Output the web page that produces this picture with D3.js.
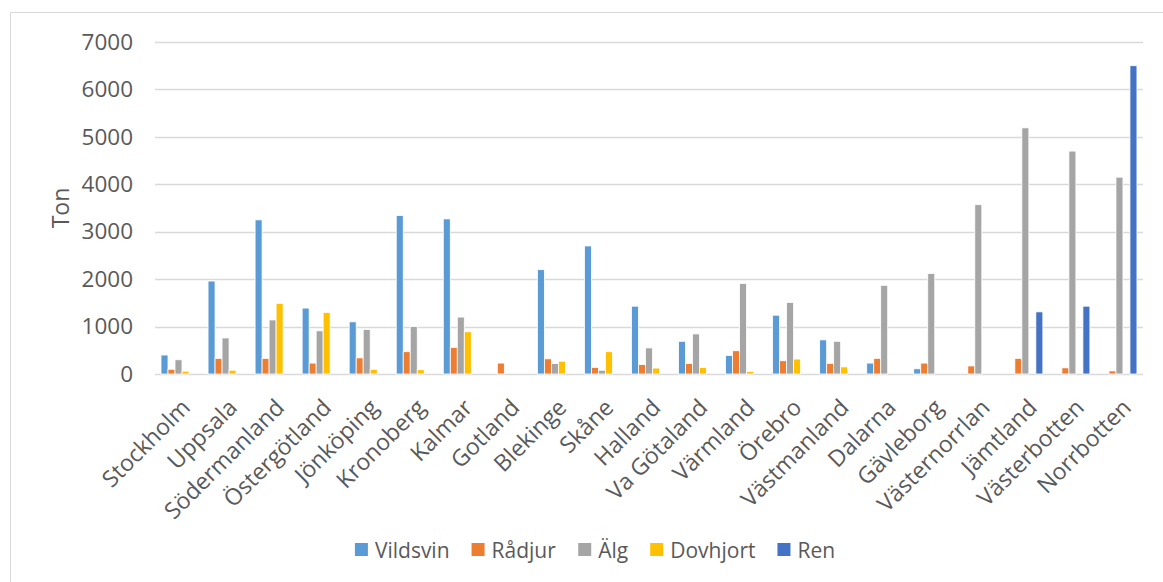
<!DOCTYPE html>
<html>
<head>
<meta charset="utf-8">
<script src="https://cdn.jsdelivr.net/npm/d3@7"></script>
<style>
  html, body { margin: 0; padding: 0; background: #fff; }
  svg { display: block; font-family: "Open Sans", sans-serif; }
</style>
</head>
<body>
<svg id="chart" width="1163" height="582"></svg>
<script>
// Län (counties)
const categories = ["Stockholm", "Uppsala", "Södermanland", "Östergötland", "Jönköping",
  "Kronoberg", "Kalmar", "Gotland", "Blekinge", "Skåne", "Halland", "Va Götaland",
  "Värmland", "Örebro", "Västmanland", "Dalarna", "Gävleborg", "Västernorrlan",
  "Jämtland", "Västerbotten", "Norrbotten"];

// Ton per species and county
const vildsvin = [400, 1960, 3250, 1390, 1100, 3340, 3270, 0, 2200, 2700, 1430, 690, 390, 1240, 720, 230, 110, 0, 0, 0, 0];
const radjur   = [100, 330, 330, 230, 340, 470, 560, 230, 320, 140, 200, 220, 490, 280, 225, 330, 230, 170, 330, 130, 65];
const alg      = [300, 760, 1140, 910, 940, 1000, 1200, 0, 220, 80, 550, 845, 1910, 1510, 690, 1870, 2120, 3570, 5190, 4700, 4150];
const dovhjort = [60, 80, 1490, 1300, 100, 90, 890, 0, 270, 470, 125, 135, 55, 315, 150, 0, 0, 0, 0, 0, 0];
const ren      = [0, 0, 0, 0, 0, 0, 0, 0, 0, 0, 0, 0, 0, 0, 0, 0, 0, 0, 1310, 1430, 6500];

const seriesNames = ["Vildsvin", "Rådjur", "Älg", "Dovhjort", "Ren"];
const seriesColors = ["#5B9BD5", "#ED7D31", "#A5A5A5", "#FFC000", "#4472C4"];
const seriesValues = [vildsvin, radjur, alg, dovhjort, ren];

const yTicks = [0, 1000, 2000, 3000, 4000, 5000, 6000, 7000];
const yTitle = "Ton";

const svg = d3.select("#chart");
const textColor = "#595959";
const gridColor = "#D9D9D9";

// outer chart frame
svg.append("rect")
  .attr("x", 10.5).attr("y", 12.5)
  .attr("width", 1180).attr("height", 600)
  .attr("fill", "none").attr("stroke", gridColor).attr("stroke-width", 1);

const plot = { left: 155, right: 1143, top: 42, bottom: 374 };

const x = d3.scaleBand()
  .domain(categories)
  .range([plot.left, plot.right])
  .paddingInner(0).paddingOuter(0);

const inner = d3.scaleBand()
  .domain(d3.range(seriesNames.length))
  .range([6, 6 + 35])
  .padding(0);

const y = d3.scaleLinear().domain([0, 7000]).range([plot.bottom, plot.top]);

// gridlines
svg.append("g")
  .selectAll("line")
  .data(yTicks)
  .join("line")
  .attr("x1", plot.left).attr("x2", plot.right)
  .attr("y1", d => Math.round(y(d)) + 0.5).attr("y2", d => Math.round(y(d)) + 0.5)
  .attr("stroke", gridColor).attr("stroke-width", 1.3);

// y axis labels
const yAxis = d3.axisLeft(y).tickValues(yTicks).tickSize(0).tickPadding(0).tickFormat(d3.format("d"));
const gy = svg.append("g").attr("transform", `translate(${plot.left - 22},0)`).call(yAxis);
gy.select(".domain").remove();
gy.selectAll("text")
  .attr("fill", textColor)
  .style("font-size", "22.5px")
  .style("font-family", "'Open Sans', sans-serif");

// y axis title
svg.append("text")
  .attr("transform", `translate(69,${(plot.top + plot.bottom) / 2}) rotate(-90)`)
  .attr("text-anchor", "middle")
  .attr("fill", textColor)
  .style("font-size", "23px")
  .text(yTitle);

// bars
const groups = svg.append("g")
  .selectAll("g")
  .data(categories)
  .join("g")
  .attr("transform", d => `translate(${x(d)},0)`);

groups.selectAll("rect")
  .data((c, ci) => seriesValues.map((vals, si) => ({ si, v: vals[ci] })).filter(d => d.v > 0))
  .join("rect")
  .attr("x", d => inner(d.si))
  .attr("width", inner.bandwidth())
  .attr("y", d => y(d.v))
  .attr("height", d => y(0) - y(d.v))
  .attr("fill", d => seriesColors[d.si])
  .attr("stroke", "#fff")
  .attr("stroke-width", 0.8);

// x axis labels, rotated
const xAxis = d3.axisBottom(x).tickSize(0).tickPadding(0);
const gx = svg.append("g").attr("transform", `translate(0,${plot.bottom})`).call(xAxis);
gx.select(".domain").remove();
gx.selectAll("text")
  .attr("fill", textColor)
  .style("font-size", "23px")
  .style("font-family", "'Open Sans', sans-serif")
  .attr("text-anchor", "end")
  .attr("dy", "0")
  .attr("y", 0)
  .attr("transform", "translate(13,35) rotate(-45)");

// legend
const legend = svg.append("g").attr("transform", "translate(0,550)");
let lx = 0;
const items = legend.selectAll("g")
  .data(seriesNames)
  .join("g");
items.append("rect")
  .attr("y", -7).attr("width", 13).attr("height", 13)
  .attr("fill", (d, i) => seriesColors[i]);
items.append("text")
  .attr("x", 20).attr("y", 7.5)
  .attr("fill", textColor)
  .style("font-size", "21px")
  .text(d => d);
items.each(function () {
  const w = this.getBBox().width;
  d3.select(this).attr("transform", `translate(${lx},0)`);
  lx += w + 22;
});
const totalW = lx - 22;
legend.attr("transform", `translate(${595 - totalW / 2},550)`);
</script>
</body>
</html>
